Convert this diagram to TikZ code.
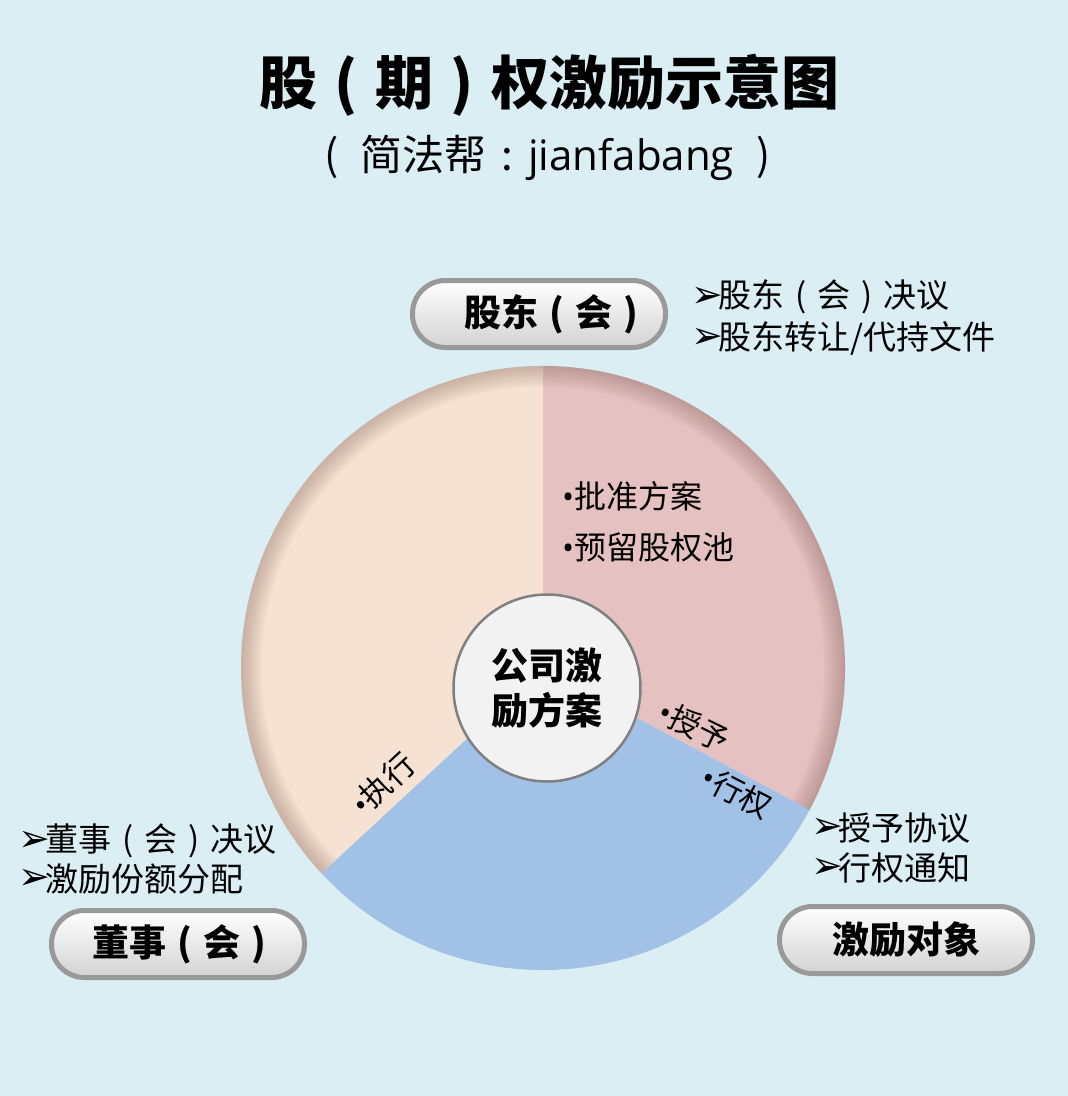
\documentclass[tikz,border=0pt]{standalone}
\usepackage{fontspec}
\setmainfont{Noto Sans CJK SC}
\newfontfamily\arrowfont{DejaVu Sans}
\newfontfamily\latinfont{Open Sans}
\definecolor{bgblue}{HTML}{DBEEF4}
\definecolor{piepink}{HTML}{E5C1C1}
\definecolor{pietan}{HTML}{F6E2D3}
\definecolor{pieblue}{HTML}{A1C1E7}
\definecolor{pierim}{HTML}{7A5A50}
\definecolor{pillrim}{HTML}{999999}
\newcommand\fsize[1]{\fontsize{#1}{#1}\selectfont}
\newcommand\lp{\makebox[1em]{(}}
\newcommand\rp{\makebox[1em]{)}}
\newcommand\bul{{\latinfont •}}
\begin{document}
\begin{tikzpicture}[x=1pt, y=-1pt,
    pill/.style={draw=pillrim, line width=5pt, rounded corners=33pt, minimum width=253pt,
      minimum height=67pt, inner sep=0pt, top color=white, bottom color=gray!35,
      font=\bfseries\fsize{37}},
    item/.style={anchor=west, inner sep=0pt, font=\fsize{33}},
    tip/.style={anchor=west, inner sep=0pt, font=\arrowfont\fsize{38}},
    slice/.style={anchor=center, inner sep=0pt, font=\fsize{31}}]
\useasboundingbox (0,0) rectangle (1068,1096);
\fill[bgblue] (0,0) rectangle (1068,1096);
\node[font=\bfseries\fsize{58}] (title) at (549,85) {股\lp 期\rp 权激励示意图};
\node[font=\fsize{42}] (sub) at (548,158) {\lp\hspace{7pt}简法帮\makebox[1em]{:}{\latinfont jianfabang}\hspace{9pt}\rp};
\begin{scope}[shift={(543,668)}, y=1pt]
\foreach \a/\b/\c in {90/-28/piepink, -28/-137.2/pieblue, -137.2/-270/pietan}
    \fill[\c] (0,0) -- (\a:302) arc[start angle=\a, end angle=\b, radius=302] -- cycle;
\clip (0,0) -- (-28:302) arc[start angle=-28, end angle=222.8, radius=302] -- cycle;
\foreach \i in {1,...,12}
    \draw[pierim, opacity=0.03, line width={3.5*\i pt}] (0,0) circle (302);
\end{scope}
\node[circle, minimum size=187pt, draw=gray, line width=2.5pt, fill=black!5, align=center,
    font=\bfseries\fontsize{37}{45}\selectfont] (plan) at (547,688) {公司激\\励方案};
\foreach \n/\y/\t in {p1/496/批准方案, p2/547/预留股权池}
    \node[item, font=\fsize{32}] (\n) at (562,\y) {\bul\t};
\node[slice, rotate=43] (exec) at (383,784) {\bul 执行};
\node[slice, rotate=-26] (grant) at (694,726) {\bul 授予};
\node[slice, rotate=-27] (exer) at (737,792) {\bul 行权};
\node[pill] (holders) at (539,314) {\hspace{36pt}股东\lp 会\rp};
\node[pill] (board) at (178,944) {\hspace{14pt}董事\lp 会\rp};
\node[pill] (staff) at (906,940) {激励对象};
\foreach \n/\x/\y/\t in {h1/693/297/股东\lp 会\rp 决议, h2/693/338/{股东转让/代持文件},
    b1/20/841/董事\lp 会\rp 决议, b2/20/879/激励份额分配, s1/813/828/授予协议, s2/813/868/行权通知} {
    \node[tip] (\n-tip) at (\x-2,\y) {➢};
    \node[item] (\n) at (\x+25,\y) {\t};
}
\end{tikzpicture}
\end{document}
